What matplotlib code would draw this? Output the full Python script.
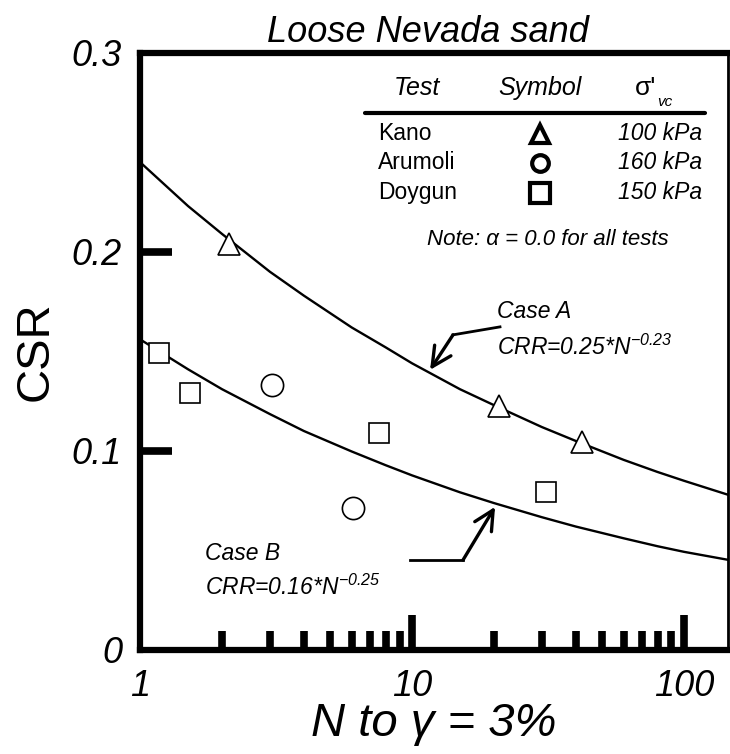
import matplotlib
matplotlib.use("Agg")
from matplotlib import pyplot as plt

plt.rcParams['font.family'] = ['Liberation Sans', 'DejaVu Sans']
plt.rcParams['mathtext.fontset'] = 'custom'
plt.rcParams['mathtext.rm'] = 'Liberation Sans:italic'
plt.rcParams['mathtext.it'] = 'Liberation Sans:italic'

# test data
kano_n = [2.12, 20.9, 42.2]
kano_csr = [0.204, 0.1226, 0.1045]
arumoli_n = [3.06, 6.07]
arumoli_csr = [0.133, 0.0714]
doygun_n = [1.17, 1.53, 7.56, 31.1]
doygun_csr = [0.149, 0.129, 0.109, 0.0794]

# fitted curves
n_fit = [1, 1.5, 2, 3, 4, 6, 8, 10, 15, 20, 30, 40, 60, 80, 100, 145]
csr_a = [0.245, 0.223, 0.209, 0.190, 0.178, 0.162, 0.152, 0.144, 0.131,
         0.123, 0.112, 0.105, 0.0955, 0.0894, 0.085, 0.078]
csr_b = [0.156, 0.141, 0.131, 0.1185, 0.110, 0.0997, 0.0928, 0.0877, 0.0792,
         0.0738, 0.0667, 0.0620, 0.0561, 0.0521, 0.0493, 0.0453]

tests = ['Kano', 'Arumoli', 'Doygun']
pressures = ['100 kPa', '160 kPa', '150 kPa']
symbols = ['^', 'o', 's']

fig = plt.figure(figsize=(7.3, 7.54), dpi=100)
ax = fig.add_axes([0.192, 0.138, 0.805, 0.792])

ax.plot(n_fit, csr_a, color='black', lw=1.7)
ax.plot(n_fit, csr_b, color='black', lw=1.7)

ax.plot(kano_n, kano_csr, '^', ms=16, mfc='white', mec='black', mew=1.2, ls='none')
ax.plot(arumoli_n, arumoli_csr, 'o', ms=16, mfc='white', mec='black', mew=1.2, ls='none')
ax.plot(doygun_n, doygun_csr, 's', ms=15, mfc='white', mec='black', mew=1.2, ls='none')

ax.set_xscale('log')
ax.set_xlim(1, 145)
ax.set_ylim(0, 0.3)
ax.set_xticks([1, 10, 100], ['1', '10', '100'])
ax.set_xticks([2, 3, 4, 5, 6, 7, 8, 9, 20, 30, 40, 50, 60, 70, 80, 90], minor=True)
ax.xaxis.set_minor_formatter(plt.NullFormatter())
ax.set_yticks([0, 0.1, 0.2, 0.3], ['0', '0.1', '0.2', '0.3'])

ax.tick_params(axis='both', which='major', direction='in', width=5.5,
               labelsize=26, pad=13)
ax.tick_params(axis='y', which='major', length=23)
ax.tick_params(axis='x', which='major', length=25, pad=14)
ax.tick_params(axis='x', which='minor', direction='in', length=14, width=5.5)
ax.tick_params(axis='y', which='minor', length=0)
ax.tick_params(top=False, right=False, which='both')
for lab in ax.get_xticklabels() + ax.get_yticklabels():
    lab.set_style('italic')

# tick marks that sit on the frame are hidden
yt = ax.yaxis.get_major_ticks()
yt[0].tick1line.set_visible(False)
yt[-1].tick1line.set_visible(False)
ax.xaxis.get_major_ticks()[0].tick1line.set_visible(False)

for s in ['left', 'top', 'bottom']:
    ax.spines[s].set_linewidth(4.5)
ax.spines['right'].set_linewidth(2)

ax.set_ylabel('CSR', fontsize=34, labelpad=10)
ax.set_xlabel('N to γ = 3%', fontsize=34, style='italic', labelpad=-2)
ax.set_title('Loose Nevada sand', fontsize=26, style='italic', pad=8, x=0.49)

# legend table
ta = ax.transAxes
ax.text(0.471, 0.941, 'Test', transform=ta, fontsize=18, style='italic', ha='center', va='center')
ax.text(0.680, 0.941, 'Symbol', transform=ta, fontsize=18, style='italic', ha='center', va='center')
ax.text(0.842, 0.941, "σ'", transform=ta, fontsize=19, ha='left', va='center')
ax.text(0.880, 0.918, 'vc', transform=ta, fontsize=11, style='italic', ha='left', va='center')
ax.plot([0.383, 0.961], [0.8995, 0.8995], transform=ta, color='black', lw=3,
        solid_capstyle='round')
rows_y = [0.864, 0.816, 0.766]
marker_sizes = [13, 12, 14]
for name, p, m, yy, ms in zip(tests, pressures, symbols, rows_y, marker_sizes):
    ax.text(0.405, yy, name, transform=ta, fontsize=16.5, ha='left', va='center')
    ax.text(0.956, yy, p, transform=ta, fontsize=16.5, style='italic', ha='right', va='center')
    ax.plot([0.680], [yy], m, transform=ta, ms=ms, mfc='white', mec='black', mew=3,
            clip_on=False)
ax.text(0.694, 0.687, 'Note: α = 0.0 for all tests', transform=ta, fontsize=16,
        style='italic', ha='center', va='center')

# case labels with arrows
head = dict(arrowstyle='->,head_length=0.7,head_width=0.35', color='black', lw=2.4,
            shrinkA=0, shrinkB=0, mutation_scale=20)
ax.text(20.5, 0.170, 'Case A', fontsize=16.5, style='italic', ha='left', va='center')
ax.text(20.5, 0.152, r'CRR=0.25*N$^{-0.23}$', fontsize=16.5, style='italic',
        ha='left', va='center')
ax.plot([21.06, 14.15], [0.1623, 0.1583], color='black', lw=2)
ax.annotate('', xy=(11.65, 0.1407), xytext=(14.15, 0.1583), arrowprops=head)

ax.text(1.73, 0.0487, 'Case B', fontsize=16.5, style='italic', ha='left', va='center')
ax.text(1.73, 0.0317, r'CRR=0.16*N$^{-0.25}$', fontsize=16.5, style='italic',
        ha='left', va='center')
ax.plot([9.83, 15.4], [0.0452, 0.0452], color='black', lw=2)
ax.annotate('', xy=(20.2, 0.0719), xytext=(15.4, 0.0452), arrowprops=head)

fig.savefig('out.png', dpi=100)
